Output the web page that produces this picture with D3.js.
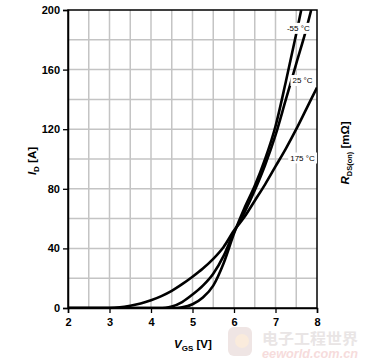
<!DOCTYPE html>
<html><head><meta charset="utf-8">
<script src="https://cdn.jsdelivr.net/npm/d3@7"></script>
<style>
html,body{margin:0;padding:0;background:#fff;}
svg{display:block;font-family:"Liberation Sans",Arial,sans-serif;}
</style></head>
<body>
<svg id="c" width="366" height="364"></svg>
<script>
// ---- data ----
const xTicks = [2,3,4,5,6,7,8];
const yTicks = [0,40,80,120,160,200];
const seriesNames = ["-55 °C","25 °C","175 °C"];
const vM55 = [2,4.6,4.75,5,5.25,5.5,5.75,6,6.25,6.5,6.75,7,7.25,7.5,7.62];
const iM55 = [0,0,0.4,2.5,7,15,30,50,67,82,100,122,152,184,200];
const v25  = [2,4.2,4.35,4.5,4.75,5,5.25,5.5,5.75,6,6.25,6.5,6.75,7,7.25,7.5,7.75,7.86];
const i25  = [0,0,0.2,1,4,9,15,23,35,51,64,79,96,116,140,164,188,200];
const v175 = [2,3,3.25,3.5,3.75,4,4.25,4.5,4.75,5,5.25,5.5,5.75,6,6.25,6.5,6.75,7,7.25,7.5,7.75,8];
const i175 = [0,0,0.4,1.5,3,5.2,8,11.5,16,21,26.5,33,41,52,61,72,83,95,107,120,134,148];
const labelPos = [{v:7.55,i:188},{v:7.65,i:153},{v:7.65,i:101}];

const svg = d3.select("#c");
const L=68,R=317,T=10,B=308;
const x = d3.scaleLinear().domain([2,8]).range([L,R]);
const y = d3.scaleLinear().domain([0,200]).range([B,T]);

// grid
const g = svg.append("g");
g.selectAll(".vg").data(d3.range(2.5,8,0.5)).enter().append("line")
  .attr("x1",d=>x(d)).attr("x2",d=>x(d)).attr("y1",T).attr("y2",B)
  .attr("stroke","#c4c4c4").attr("stroke-width",1.5);
g.selectAll(".hg").data(d3.range(20,200,20)).enter().append("line")
  .attr("y1",d=>y(d)).attr("y2",d=>y(d)).attr("x1",L).attr("x2",R)
  .attr("stroke","#c4c4c4").attr("stroke-width",1.5);

// curves
svg.append("clipPath").attr("id","clip").append("rect")
  .attr("x",L).attr("y",T).attr("width",R-L).attr("height",B-T);
const line = d3.line().x(d=>x(d[0])).y(d=>y(d[1])).curve(d3.curveMonotoneX);
const series = [d3.zip(vM55,iM55), d3.zip(v25,i25), d3.zip(v175,i175)];
svg.append("g").attr("clip-path","url(#clip)").selectAll("path").data(series).enter()
  .append("path").attr("d",line).attr("fill","none").attr("stroke","#000")
  .attr("stroke-width",2.6).attr("stroke-linejoin","round");

// frame
svg.append("rect").attr("x",L).attr("y",T).attr("width",R-L).attr("height",B-T)
  .attr("fill","none").attr("stroke","#000").attr("stroke-width",1.5);

// axes
const ya = svg.append("g").attr("transform",`translate(${L},0)`)
  .call(d3.axisLeft(y).tickValues(yTicks).tickFormat(d3.format("d")).tickSize(5).tickPadding(3));
const xa = svg.append("g").attr("transform",`translate(0,${B})`)
  .call(d3.axisBottom(x).tickValues(xTicks).tickFormat(d3.format("d")).tickSize(5).tickPadding(5));
[ya,xa].forEach(a=>{
  a.select(".domain").attr("stroke","#000").attr("stroke-width",1.5);
  a.selectAll(".tick line").attr("stroke","#000").attr("stroke-width",1.3);
  a.selectAll(".tick text").attr("fill","#000").style("font-size","11px")
   .style("font-weight","bold").style("font-family","'Liberation Sans',Arial,sans-serif");
});

// labels of curves
const lab = svg.append("g").selectAll("g").data(seriesNames).enter().append("g")
  .attr("transform",(d,k)=>`translate(${x(labelPos[k].v)},${y(labelPos[k].i)})`);
const rects = lab.append("rect").attr("fill","#fff");
const texts = lab.append("text").text(d=>d).attr("text-anchor","middle").attr("dy","3")
  .style("font-size","8px").attr("fill","#000");
texts.each(function(d,k){
  const b=this.getBBox();
  d3.select(rects.nodes()[k]).attr("x",b.x-2).attr("y",b.y-1).attr("width",b.width+4).attr("height",b.height+2);
});

// axis titles
const yt = svg.append("text").attr("transform","translate(36,161) rotate(-90)")
  .attr("text-anchor","middle").style("font-size","11.5px").style("font-weight","bold");
yt.append("tspan").text("I").style("font-style","italic");
yt.append("tspan").text("D").style("font-size","8px").attr("dy","3");
yt.append("tspan").text(" [A]").attr("dy","-3");

const xt = svg.append("text").attr("x",193).attr("y",348)
  .attr("text-anchor","middle").style("font-size","11.5px").style("font-weight","bold");
xt.append("tspan").text("V").style("font-style","italic");
xt.append("tspan").text("GS").style("font-size","8px").attr("dy","3");
xt.append("tspan").text(" [V]").attr("dy","-3");

const rt = svg.append("text").attr("transform","translate(349,153) rotate(-90)")
  .attr("text-anchor","middle").style("font-size","11.5px").style("font-weight","bold");
rt.append("tspan").text("R").style("font-style","italic");
rt.append("tspan").text("DS(on)").style("font-size","7.5px").attr("dy","3");
rt.append("tspan").text(" [mΩ]").attr("dy","-3");

// watermark
const wm = svg.append("g").attr("opacity",0.55);
wm.append("rect").attr("x",228).attr("y",327).attr("width",24).attr("height",29).attr("rx",6)
  .attr("fill","#e3d0cf");
wm.append("circle").attr("cx",242).attr("cy",341).attr("r",7).attr("fill","#f6dcc0");
wm.append("text").text("电子工程世界").attr("x",262).attr("y",344)
  .attr("textLength",96).attr("lengthAdjust","spacingAndGlyphs")
  .style("font-family","'Noto Sans CJK SC',sans-serif").style("font-size","15px")
  .style("font-weight","bold").attr("fill","#d8d0d0");
wm.append("text").text("eeworld.com.cn").attr("x",262).attr("y",358)
  .attr("textLength",96).attr("lengthAdjust","spacingAndGlyphs")
  .style("font-size","12px").style("font-style","italic").style("font-weight","bold")
  .attr("fill","#f0c0c0");
</script>
</body></html>
